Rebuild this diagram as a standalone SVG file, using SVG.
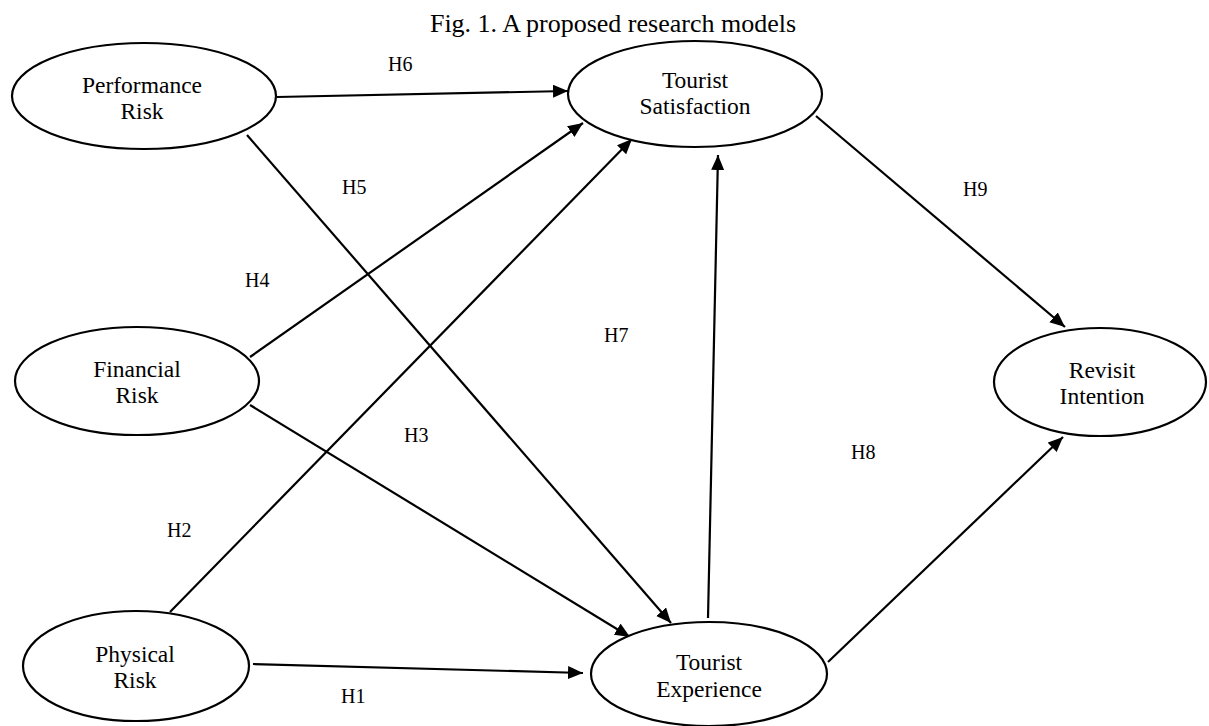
<svg xmlns="http://www.w3.org/2000/svg" width="1209" height="726" viewBox="0 0 1209 726">
<defs>
<style>
.node ellipse{fill:#fff;stroke:#000;stroke-width:2.2}
.lbl{font-family:"Liberation Serif","Times New Roman",serif;font-size:23.5px;fill:#000;text-anchor:middle}
.h{font-family:"Liberation Serif","Times New Roman",serif;font-size:20px;fill:#000}
.title{font-family:"Liberation Serif","Times New Roman",serif;font-size:26px;fill:#000;text-anchor:middle}
#edges line{stroke:#000;stroke-width:2.2;marker-end:url(#arr)}
</style>
<marker id="arr" markerUnits="userSpaceOnUse" markerWidth="16" markerHeight="14" refX="15" refY="6.5" orient="auto">
<path d="M0,0 L15,6.5 L0,13 z" fill="#000"/>
</marker>
</defs>
<rect width="1209" height="726" fill="#fff"/>
<text class="title" x="613" y="32">Fig. 1. A proposed research models</text>
<g id="edges">
<line x1="277" y1="97" x2="568" y2="91"/>
<line x1="247" y1="135" x2="671" y2="623"/>
<line x1="250" y1="357" x2="583" y2="123"/>
<line x1="250" y1="405" x2="630" y2="637"/>
<line x1="170" y1="612" x2="632" y2="139"/>
<line x1="253" y1="664" x2="583" y2="673"/>
<line x1="708" y1="618" x2="718" y2="155"/>
<line x1="828" y1="662" x2="1063" y2="437"/>
<line x1="816" y1="116" x2="1065" y2="327"/>
</g>
<g id="labels">
<text class="h" x="388" y="71">H6</text>
<text class="h" x="342" y="194">H5</text>
<text class="h" x="245" y="287">H4</text>
<text class="h" x="404" y="442">H3</text>
<text class="h" x="167" y="537">H2</text>
<text class="h" x="341" y="703">H1</text>
<text class="h" x="604" y="342">H7</text>
<text class="h" x="851" y="459">H8</text>
<text class="h" x="963" y="196">H9</text>
</g>
<g id="performance-risk" class="node">
<ellipse cx="144" cy="96" rx="132" ry="53"/>
<text class="lbl" x="142" y="93">Performance</text>
<text class="lbl" x="142" y="119">Risk</text>
</g>
<g id="tourist-satisfaction" class="node">
<ellipse cx="695" cy="94" rx="127" ry="53"/>
<text class="lbl" x="695" y="88">Tourist</text>
<text class="lbl" x="695" y="114">Satisfaction</text>
</g>
<g id="financial-risk" class="node">
<ellipse cx="137" cy="381" rx="122" ry="54"/>
<text class="lbl" x="137" y="377">Financial</text>
<text class="lbl" x="137" y="403">Risk</text>
</g>
<g id="revisit-intention" class="node">
<ellipse cx="1100" cy="382" rx="106" ry="54"/>
<text class="lbl" x="1102" y="378">Revisit</text>
<text class="lbl" x="1102" y="404">Intention</text>
</g>
<g id="physical-risk" class="node">
<ellipse cx="136" cy="666" rx="113" ry="55"/>
<text class="lbl" x="135" y="662">Physical</text>
<text class="lbl" x="135" y="688">Risk</text>
</g>
<g id="tourist-experience" class="node">
<ellipse cx="709" cy="674" rx="118" ry="52"/>
<text class="lbl" x="709" y="670">Tourist</text>
<text class="lbl" x="709" y="697">Experience</text>
</g>
</svg>
